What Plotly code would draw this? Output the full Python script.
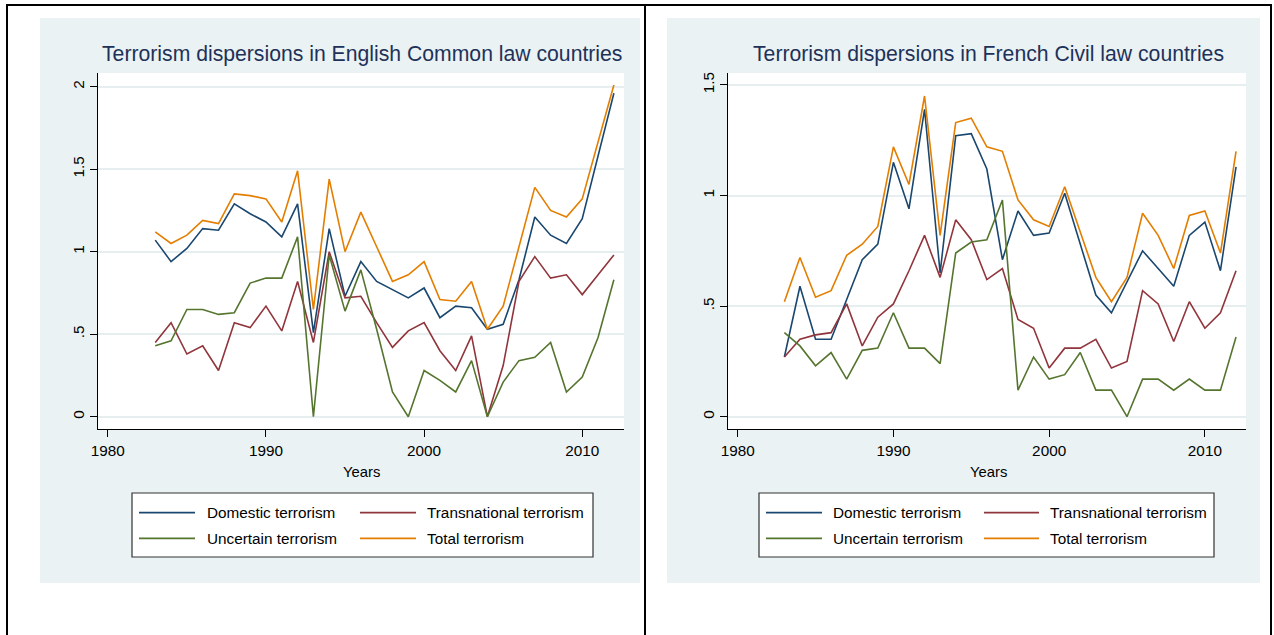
import plotly.graph_objects as go

# ---------------- data ----------------
years = list(range(1983, 2013))

series_names = ["Domestic terrorism", "Transnational terrorism",
                "Uncertain terrorism", "Total terrorism"]
series_colors = ["#1A476F", "#90353B", "#55752F", "#E37E00"]

# English Common law countries
dom_cl = [1.07, 0.94, 1.02, 1.14, 1.13, 1.29, 1.23, 1.18, 1.09, 1.29,
          0.51, 1.14, 0.73, 0.94, 0.82, 0.77, 0.72, 0.78, 0.60, 0.67,
          0.66, 0.53, 0.56, 0.83, 1.21, 1.10, 1.05, 1.20, 1.58, 1.96]
trans_cl = [0.45, 0.57, 0.38, 0.43, 0.28, 0.57, 0.54, 0.67, 0.52, 0.82,
            0.45, 1.00, 0.72, 0.73, 0.57, 0.42, 0.52, 0.57, 0.40, 0.28,
            0.49, 0.00, 0.31, 0.82, 0.97, 0.84, 0.86, 0.74, 0.86, 0.98]
unc_cl = [0.43, 0.46, 0.65, 0.65, 0.62, 0.63, 0.81, 0.84, 0.84, 1.09,
          0.00, 0.98, 0.64, 0.89, 0.53, 0.15, 0.00, 0.28, 0.22, 0.15,
          0.34, 0.00, 0.21, 0.34, 0.36, 0.45, 0.15, 0.24, 0.48, 0.83]
tot_cl = [1.12, 1.05, 1.10, 1.19, 1.17, 1.35, 1.34, 1.32, 1.18, 1.49,
          0.65, 1.44, 1.00, 1.24, 1.03, 0.82, 0.86, 0.94, 0.71, 0.70,
          0.82, 0.53, 0.67, 1.03, 1.39, 1.25, 1.21, 1.32, 1.67, 2.01]

# French Civil law countries
dom_fr = [0.27, 0.59, 0.35, 0.35, 0.53, 0.71, 0.78, 1.15, 0.94, 1.39,
          0.65, 1.27, 1.28, 1.12, 0.71, 0.93, 0.82, 0.83, 1.01, 0.78,
          0.55, 0.47, 0.61, 0.75, 0.67, 0.59, 0.82, 0.88, 0.66, 1.13]
trans_fr = [0.27, 0.35, 0.37, 0.38, 0.51, 0.32, 0.45, 0.51, 0.66, 0.82,
            0.63, 0.89, 0.80, 0.62, 0.67, 0.44, 0.40, 0.22, 0.31, 0.31,
            0.35, 0.22, 0.25, 0.57, 0.51, 0.34, 0.52, 0.40, 0.47, 0.66]
unc_fr = [0.38, 0.32, 0.23, 0.29, 0.17, 0.30, 0.31, 0.47, 0.31, 0.31,
          0.24, 0.74, 0.79, 0.80, 0.98, 0.12, 0.27, 0.17, 0.19, 0.29,
          0.12, 0.12, 0.00, 0.17, 0.17, 0.12, 0.17, 0.12, 0.12, 0.36]
tot_fr = [0.52, 0.72, 0.54, 0.57, 0.73, 0.78, 0.86, 1.22, 1.05, 1.45,
          0.82, 1.33, 1.35, 1.22, 1.20, 0.98, 0.89, 0.86, 1.04, 0.83,
          0.63, 0.52, 0.63, 0.92, 0.82, 0.67, 0.91, 0.93, 0.74, 1.20]

x_ticks = [1980, 1990, 2000, 2010]
x_ticklabels = ["1980", "1990", "2000", "2010"]
y_ticks_cl = [0, 0.5, 1, 1.5, 2]
y_ticklabels_cl = ["0", ".5", "1", "1.5", "2"]
y_ticks_fr = [0, 0.5, 1, 1.5]
y_ticklabels_fr = ["0", ".5", "1", "1.5"]

titles = ["Terrorism dispersions in English Common law countries",
          "Terrorism dispersions in French Civil law countries"]
x_title = "Years"

# ---------------- layout helpers ----------------
W, H = 1274, 635
FONT = "Liberation Sans, Arial, sans-serif"
BG = "#EAF2F3"
GRID = "#E6EEF0"
TITLE_COLOR = "#1E3159"


def fx(p):
    return p / W


def fy(p):
    return 1 - p / H


panels = [
    dict(series=[dom_cl, trans_cl, unc_cl, tot_cl], title=titles[0],
         yt=y_ticks_cl, ytl=y_ticklabels_cl, yr=[-0.0745, 2.083],
         plot=(98, 624, 73, 429), bg=(40, 640, 18, 583),
         leg=(132, 593, 493, 557), cols=((139, 195, 205), (360, 416, 424.5))),
    dict(series=[dom_fr, trans_fr, unc_fr, tot_fr], title=titles[1],
         yt=y_ticks_fr, ytl=y_ticklabels_fr, yr=[-0.0556, 1.554],
         plot=(728, 1246, 73, 429), bg=(667, 1260, 18, 583),
         leg=(759, 1214, 493, 557), cols=((766, 822, 831), (984, 1039, 1048))),
]

fig = go.Figure()
shapes = []
annotations = []
rows_y = (512.7, 538.3)
legend_slots = [(0, 0), (0, 1), (1, 0), (1, 1)]  # (row, col) for each series

for i, p in enumerate(panels):
    xa = "x" if i == 0 else "x2"
    ya = "y" if i == 0 else "y2"
    for k, vals in enumerate(p["series"]):
        fig.add_trace(go.Scatter(
            x=years, y=vals, mode="lines", name=series_names[k],
            line=dict(color=series_colors[k], width=1.6),
            xaxis=xa, yaxis=ya, showlegend=False))

    x0, x1, y0, y1 = p["plot"]
    axis_common = dict(showline=True, linecolor="black", linewidth=1.4,
                       ticks="outside", ticklen=7, tickwidth=1.2, tickcolor="black",
                       tickfont=dict(family=FONT, size=15.3, color="black"),
                       zeroline=False, automargin=False)
    xkey = "xaxis" if i == 0 else "xaxis2"
    ykey = "yaxis" if i == 0 else "yaxis2"
    fig.update_layout(**{
        xkey: dict(domain=[fx(x0), fx(x1)], range=[1979.38, 2012.64],
                   tickvals=x_ticks, ticktext=x_ticklabels, showgrid=False,
                   anchor=ya, **axis_common),
        ykey: dict(domain=[fy(y1), fy(y0)], range=p["yr"], tickvals=p["yt"],
                   ticktext=p["ytl"], tickangle=-90, showgrid=True,
                   gridcolor=GRID, gridwidth=2, anchor=xa, **axis_common),
    })

    bx0, bx1, by0, by1 = p["bg"]
    shapes.append(dict(type="rect", xref="paper", yref="paper", layer="below",
                       x0=fx(bx0), x1=fx(bx1), y0=fy(by1), y1=fy(by0),
                       fillcolor=BG, line=dict(width=0)))
    shapes.append(dict(type="rect", xref="paper", yref="paper", layer="below",
                       x0=fx(x0), x1=fx(x1), y0=fy(y1), y1=fy(y0),
                       fillcolor="white", line=dict(width=0)))

    # title
    annotations.append(dict(text=p["title"], xref="paper", yref="paper",
                            x=fx((x0 + x1) / 2 + 1), y=fy(54), xanchor="center", yanchor="middle",
                            showarrow=False,
                            font=dict(family=FONT, size=21.2, color=TITLE_COLOR)))
    # x axis title
    annotations.append(dict(text=x_title, xref="paper", yref="paper",
                            x=fx((x0 + x1) / 2 + 1), y=fy(471.5), xanchor="center", yanchor="middle",
                            showarrow=False,
                            font=dict(family=FONT, size=14.8, color="black")))

    # legend box
    lx0, lx1, ly0, ly1 = p["leg"]
    shapes.append(dict(type="rect", xref="paper", yref="paper", layer="above",
                       x0=fx(lx0), x1=fx(lx1), y0=fy(ly1), y1=fy(ly0),
                       fillcolor="white", line=dict(color="#333333", width=1.2)))
    for k, (r, c) in enumerate(legend_slots):
        sx0, sx1, tx = p["cols"][c]
        yy = rows_y[r]
        shapes.append(dict(type="line", xref="paper", yref="paper", layer="above",
                           x0=fx(sx0), x1=fx(sx1), y0=fy(yy), y1=fy(yy),
                           line=dict(color=series_colors[k], width=1.8)))
        annotations.append(dict(text=series_names[k], xref="paper", yref="paper",
                                x=fx(tx), y=fy(yy), xanchor="left", yanchor="middle",
                                showarrow=False,
                                font=dict(family=FONT, size=15.3, color="black")))

# table borders of the document
border = dict(color="black", width=2)
shapes += [
    dict(type="line", xref="paper", yref="paper", x0=fx(6), x1=fx(1272), y0=fy(5), y1=fy(5), line=border),
    dict(type="line", xref="paper", yref="paper", x0=fx(7), x1=fx(7), y0=fy(5), y1=0, line=border),
    dict(type="line", xref="paper", yref="paper", x0=fx(645), x1=fx(645), y0=fy(5), y1=0, line=border),
    dict(type="line", xref="paper", yref="paper", x0=fx(1271), x1=fx(1271), y0=fy(5), y1=0, line=border),
]

fig.update_layout(
    width=W, height=H, autosize=False,
    margin=dict(l=0, r=0, t=0, b=0),
    paper_bgcolor="white", plot_bgcolor="white",
    shapes=shapes, annotations=annotations, showlegend=False,
    font=dict(family=FONT),
)

fig.write_html("out.html",
               config={"displayModeBar": False},
               post_script="document.body.style.margin='0';document.body.style.overflow='hidden';")
